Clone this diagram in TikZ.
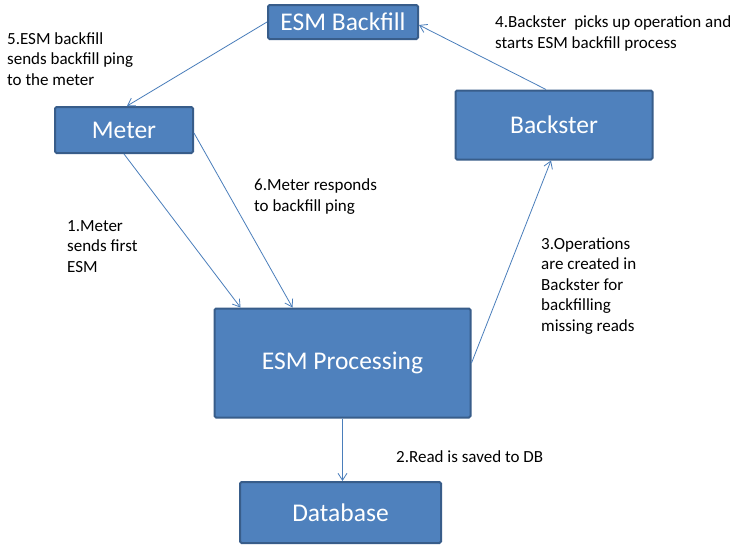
\documentclass[tikz,border=0pt]{standalone}
\usepackage{fontspec}
\setmainfont{Carlito}
\usetikzlibrary{arrows.meta}
\definecolor{boxfill}{RGB}{79,129,189}
\definecolor{boxline}{RGB}{56,93,138}
\definecolor{arrowcol}{RGB}{74,126,187}
\tikzset{
  flowbox/.style={draw=boxline, fill=boxfill, line width=2pt, rounded corners=1.5pt,
    text=white, font=\fontsize{25.5}{30}\selectfont, inner sep=0pt},
  conn/.style={draw=arrowcol, line width=0.8pt, -{Straight Barb[length=7pt,width=9pt,line width=0.8pt]}},
  lbl/.style={anchor=north west, align=left, inner sep=0pt, text=black,
    font=\fontsize{17}{20.5}\selectfont}
}
\begin{document}
\begin{tikzpicture}[x=1pt,y=-1pt]
\useasboundingbox[fill=white] (0,0) rectangle (735,549);
% boxes
\node[flowbox, minimum width=150pt, minimum height=34pt] (backfill) at (343,22) {ESM Backfill};
\node[flowbox, minimum width=138pt, minimum height=46pt] (meter) at (124,130) {Meter};
\node[flowbox, minimum width=197pt, minimum height=69pt] (backster) at (554,125) {Backster};
\node[flowbox, minimum width=256pt, minimum height=109pt] (proc) at (342.5,363) {ESM Processing};
\node[flowbox, minimum width=201pt, minimum height=61pt] (db) at (340.5,512.5) {Database};
% connectors
\draw[conn] ([xshift=-8pt]backster.north) -- ([yshift=-3pt]backfill.east);
\draw[conn] (backfill.west) -- ([xshift=3pt]meter.north);
\draw[conn] (meter.south) -- ([xshift=27pt]proc.north west);
\draw[conn] ([yshift=-3pt]meter.east) -- ([xshift=79pt]proc.north west);
\draw[conn] (proc.east) -- ([xshift=-3pt]backster.south);
\draw[conn] (proc.south) -- (proc.south |- db.north);
% labels
\node[lbl] (l5) at (7,32) {5.ESM backfill\\sends backfill ping\\to the meter};
\node[lbl] (l4) at (495,15.5) {4.Backster\ \ picks up operation and\\starts ESM backfill process};
\node[lbl] (l3) at (541,237.5) {3.Operations\\are created in\\Backster for\\backfilling\\missing reads};
\node[lbl] (l1) at (67,220) {1.Meter\\sends first\\ESM};
\node[lbl] (l6) at (254,178.5) {6.Meter responds\\to backfill ping};
\node[lbl] (l2) at (396,450) {2.Read is saved to DB};
\end{tikzpicture}
\end{document}
